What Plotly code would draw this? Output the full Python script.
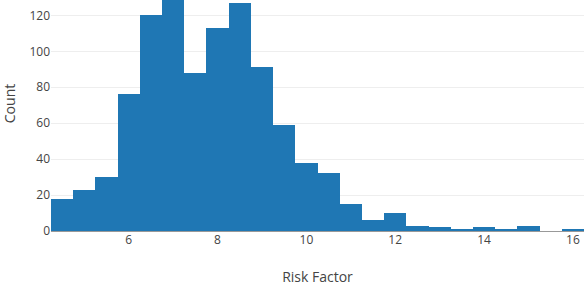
import plotly.graph_objects as go

bin_centers = [4.5, 5.0, 5.5, 6.0, 6.5, 7.0, 7.5, 8.0, 8.5, 9.0, 9.5, 10.0,
               10.5, 11.0, 11.5, 12.0, 12.5, 13.0, 13.5, 14.0, 14.5, 15.0, 15.5, 16.0]
counts = [18, 23, 30, 76, 120, 135, 88, 113, 127, 91, 59, 38,
          32, 15, 6, 10, 3, 2, 1, 2, 1, 3, 0, 1]
x_ticks = [6, 8, 10, 12, 14, 16]
y_ticks = [0, 20, 40, 60, 80, 100, 120, 140]

fig = go.Figure(go.Bar(
    x=bin_centers, y=counts, width=0.5,
    marker=dict(color="#1f77b4", line=dict(width=0)),
))
fig.update_layout(
    width=584, height=310,
    margin=dict(l=51, r=0, t=0, b=55),
    plot_bgcolor="white", paper_bgcolor="white",
    font=dict(family="Open Sans", size=12, color="#444"),
    bargap=0, showlegend=False,
)
fig.update_xaxes(range=[4.25, 16.25], tickvals=x_ticks, showgrid=False,
                 zeroline=False, ticks="", title_text="Risk Factor",
                 title_font=dict(size=14), title_standoff=29, automargin=False)
fig.update_yaxes(range=[0, 141.9], tickvals=y_ticks, showgrid=True, gridcolor="#eee",
                 zeroline=True, zerolinecolor="#999", zerolinewidth=1,
                 title_text="Count", title_font=dict(size=14), title_standoff=10,
                 automargin=False)
fig.write_html(
    "out.html",
    post_script="document.body.style.margin='0';"
                "document.getElementById('{plot_id}').style.marginTop='-24px';",
)
